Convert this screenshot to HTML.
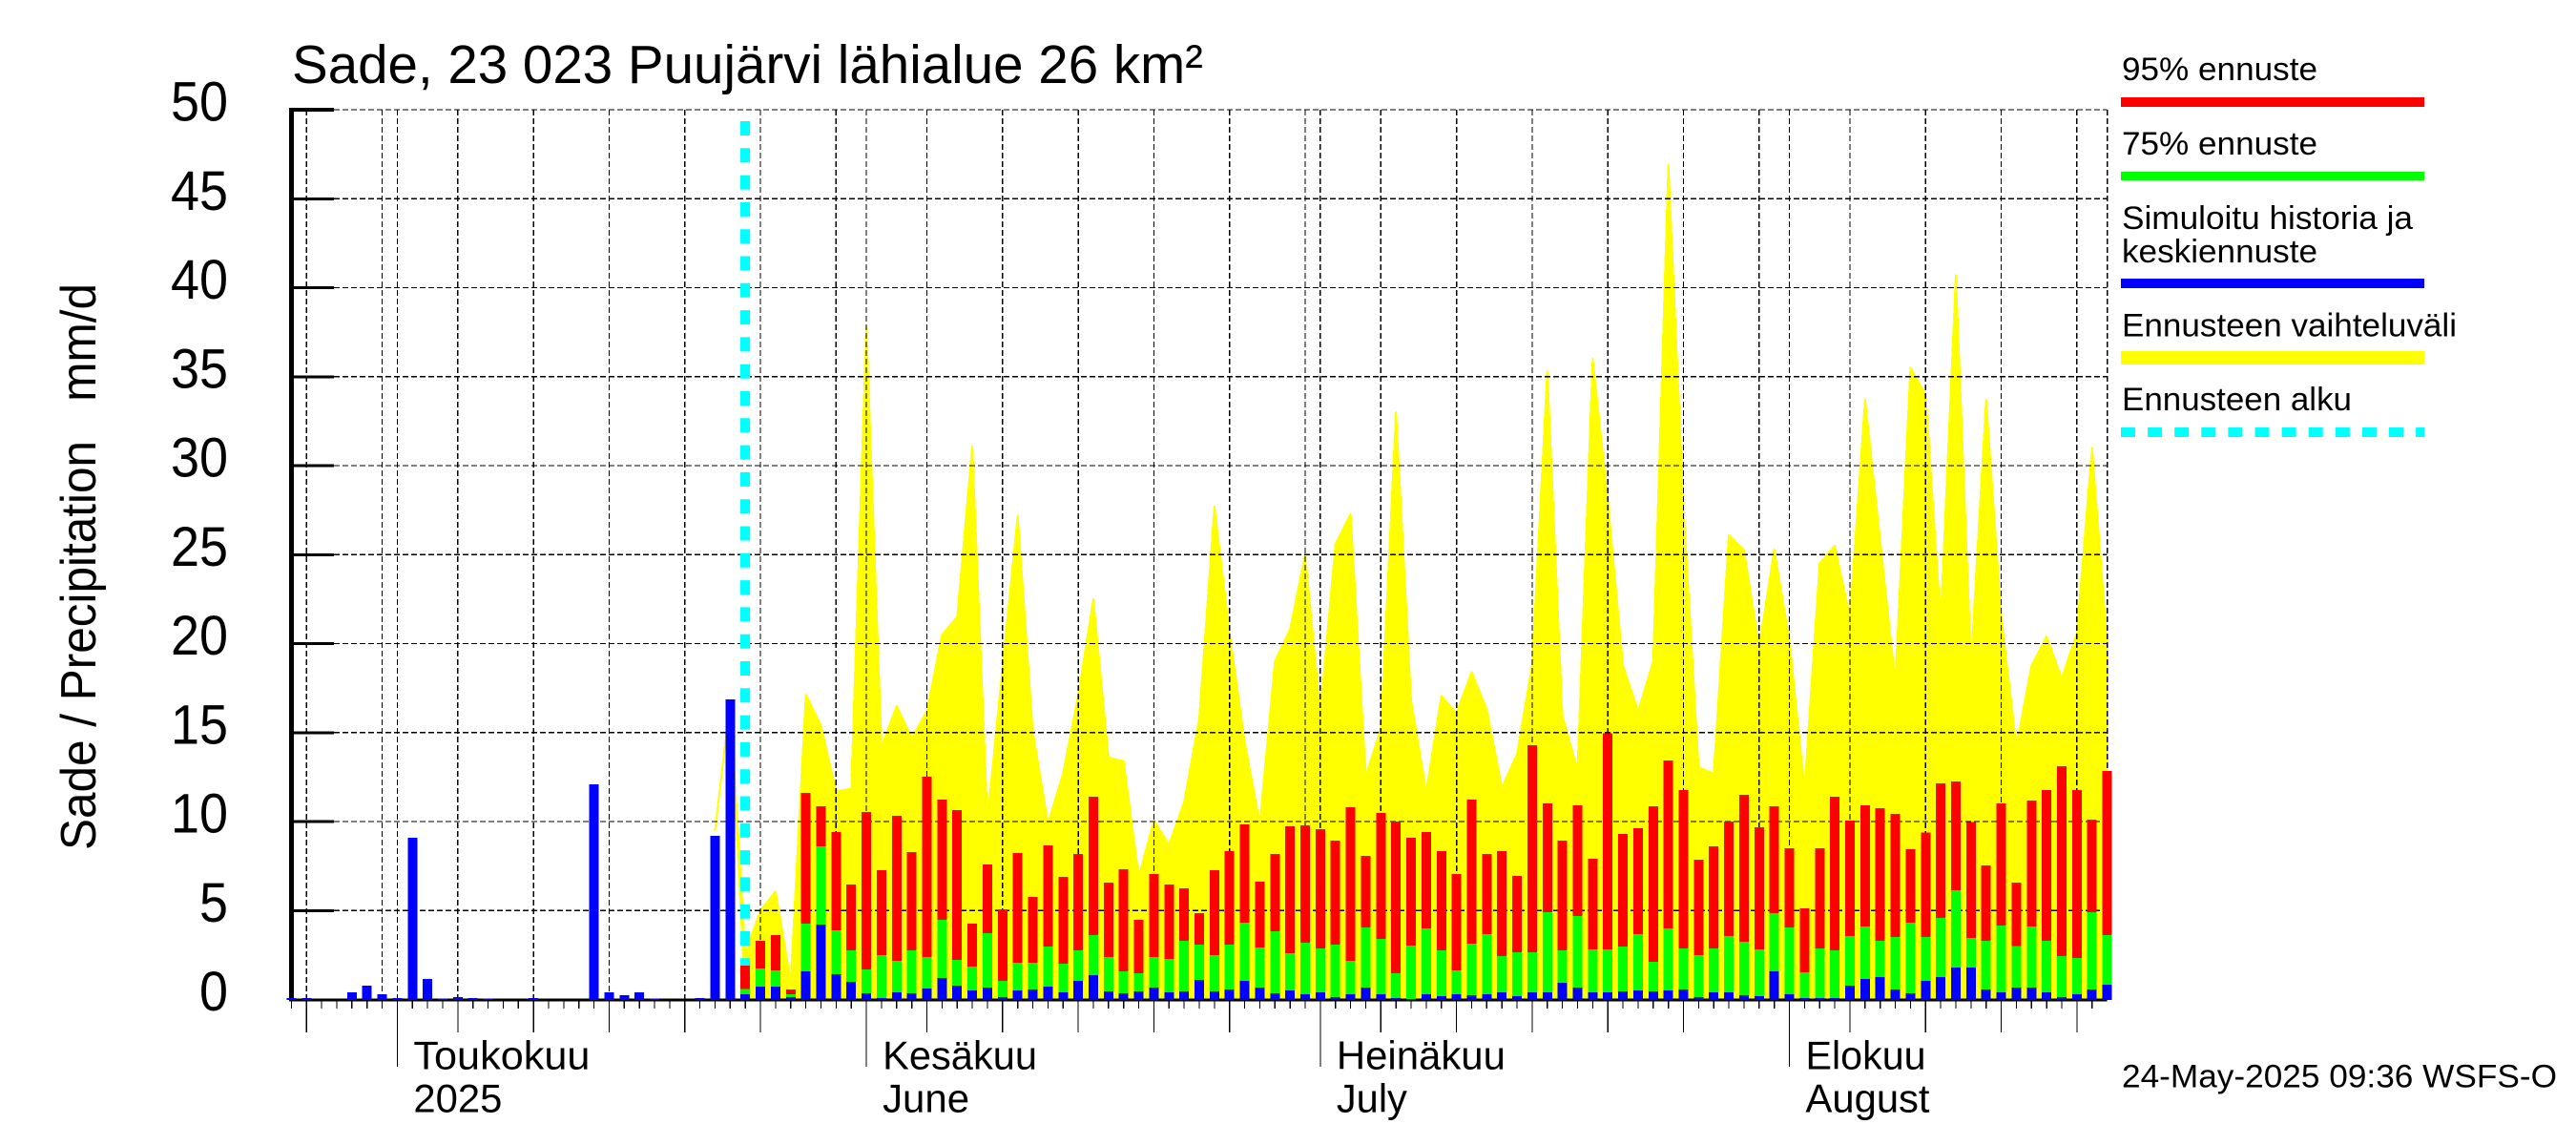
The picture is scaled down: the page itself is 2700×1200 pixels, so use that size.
<!DOCTYPE html>
<html lang="fi">
<head>
<meta charset="utf-8">
<title>Sade, 23 023 Puujärvi lähialue 26 km²</title>
<style>
html,body{margin:0;padding:0;background:#fff;width:2700px;height:1200px;overflow:hidden}
svg{display:block}
text{font-family:"Liberation Sans",sans-serif;fill:#000;white-space:pre}
</style>
</head>
<body>
<svg id="chart" xmlns="http://www.w3.org/2000/svg" width="2700" height="1200" viewBox="0 0 2700 1200">
  <rect x="0" y="0" width="2700" height="1200" fill="#fff"/>
  <g id="layer-range"></g>
  <g id="layer-grid" shape-rendering="crispEdges"></g>
  <line x1="781" y1="127" x2="781" y2="1047" stroke="#00ffff" stroke-width="10.4" stroke-dasharray="15 13.3"/>
  <g id="layer-axes" shape-rendering="crispEdges"></g>
  <g id="layer-bars" shape-rendering="crispEdges"></g>
  <g id="layer-labels"></g>

  <text x="306" y="87" font-size="57" textLength="955" lengthAdjust="spacingAndGlyphs">Sade, 23 023 Puujärvi lähialue 26 km²</text>
  <text transform="translate(100 891) rotate(-90)" x="0" y="0" font-size="52" textLength="594" lengthAdjust="spacingAndGlyphs">Sade / Precipitation   mm/d</text>

  <g>
    <text x="2224" y="84" font-size="34" textLength="205" lengthAdjust="spacingAndGlyphs">95% ennuste</text>
    <rect x="2223" y="102" width="318" height="10" fill="#ff0000"/>
    <text x="2224" y="162" font-size="34" textLength="205" lengthAdjust="spacingAndGlyphs">75% ennuste</text>
    <rect x="2223" y="180" width="318" height="9" fill="#00ff00"/>
    <text x="2224" y="240" font-size="34" textLength="305" lengthAdjust="spacingAndGlyphs">Simuloitu historia ja</text>
    <text x="2224" y="275" font-size="34" textLength="205" lengthAdjust="spacingAndGlyphs">keskiennuste</text>
    <rect x="2223" y="292" width="318" height="10" fill="#0000ff"/>
    <text x="2224" y="352.7" font-size="34" textLength="351" lengthAdjust="spacingAndGlyphs">Ennusteen vaihteluväli</text>
    <rect x="2223" y="368" width="318" height="14" fill="#ffff00"/>
    <text x="2224" y="430" font-size="34" textLength="241" lengthAdjust="spacingAndGlyphs">Ennusteen alku</text>
    <line x1="2223" y1="453" x2="2541" y2="453" stroke="#00ffff" stroke-width="10" stroke-dasharray="15 13.1"/>
  </g>

  <text x="2224" y="1139.6" font-size="34" textLength="456" lengthAdjust="spacingAndGlyphs">24-May-2025 09:36 WSFS-O</text>
</svg>
<script>
// ---- chart data (mm/d), one entry per day from the start date ----
const startYear = 2025;
const startMonth = 3;   // April (0-based)
const startDay = 24;
const yTickValues = [0, 5, 10, 15, 20, 25, 30, 35, 40, 45, 50];
const monthLabelsFi = ['Toukokuu', 'Kesäkuu', 'Heinäkuu', 'Elokuu'];
const monthLabelsEn = ['2025', 'June', 'July', 'August'];
const monthLabelNumbers = [4, 5, 6, 7];
const monthLabelWidthsFi = [185, 162, 177, 126];
const monthLabelWidthsEn = [93, 91, 74, 130];

// Simulated history and median forecast
const medianValues = [
 0.07,0.07,0,0,0.4,0.77,0.3,0.07,9.08,1.16,
 0.05,0.13,0.07,0.05,0,0,0.07,0,0,0,
 12.1,0.4,0.24,0.4,0.05,0,0,0.07,9.2,16.86,
 0.3,0.72,0.72,0.13,1.58,4.21,1.42,0.99,0.35,0.08,
 0.40,0.35,0.62,1.21,0.78,0.51,0.67,0.13,0.51,0.56,
 0.72,0.40,1.05,1.37,0.46,0.35,0.46,0.67,0.40,0.46,
 1.10,0.46,0.56,1.05,0.67,0.35,0.51,0.29,0.40,0.13,
 0.29,0.67,0.29,0.08,0.03,0.29,0.19,0.29,0.24,0.29,
 0.40,0.19,0.40,0.40,0.94,0.67,0.40,0.40,0.46,0.51,
 0.46,0.51,0.56,0.13,0.40,0.40,0.24,0.19,1.58,0.29,
 0.08,0.08,0.08,0.78,1.15,1.26,0.56,0.35,1.04,1.26,
 1.80,1.80,0.56,0.40,0.67,0.67,0.40,0.13,0.30,0.56,0.83];

// Forecast percentiles start at the forecast start day
const forecastStartIndex = 30;
const p75Values = [
 0.6,1.74,1.64,0.29,4.26,8.61,3.89,2.76,1.69,2.49,
 2.17,2.76,2.39,4.48,2.23,1.85,3.73,1.05,2.06,2.06,
 2.98,2.01,2.76,3.62,2.39,1.58,1.47,2.39,2.28,3.30,
 3.08,2.49,3.08,4.32,2.92,3.83,2.60,3.19,2.87,3.08,
 2.17,4.05,3.40,1.47,3.03,3.99,2.76,1.64,3.14,3.67,
 2.44,2.65,2.65,4.91,2.76,4.69,2.81,2.81,2.98,3.67,
 2.12,3.99,2.87,2.49,2.87,3.57,3.24,2.81,4.85,4.05,
 1.53,2.87,2.76,3.57,4.10,3.30,3.51,4.32,3.52,4.59,
 6.15,3.46,3.29,4.16,2.99,4.09,3.29,2.43,2.33,4.91,3.62];
const p95Values = [
 1.9,3.30,3.62,0.56,11.61,10.86,9.41,6.46,10.54,7.27,
 10.32,8.28,12.52,11.23,10.64,4.26,7.59,5.07,8.23,5.76,
 8.66,6.89,8.18,11.39,6.57,7.32,4.48,7.05,6.46,6.25,
 4.85,7.27,8.34,9.84,6.62,8.18,9.73,9.79,9.57,8.93,
 10.80,8.07,10.48,10.0,9.09,9.41,8.34,7.05,11.23,8.18,
 8.34,6.94,14.29,11.02,8.93,10.91,7.91,14.95,9.30,9.62,
 10.86,13.43,11.77,7.86,8.61,10.0,11.50,9.68,10.86,8.50,
 5.12,8.50,11.39,10.05,10.91,10.75,10.42,8.45,9.37,12.14,
 12.26,9.96,7.54,11.03,6.58,11.17,11.77,13.10,11.77,10.11,12.84];

// Forecast variation envelope: upper edge, and the lower edge where it leaves zero
const rangeStartIndex = 28;
const rangeMaxValues = [
 9.5,16.8,2.6,5.0,6.08,1.04,17.13,15.4,11.7,11.84,
 37.8,14.2,16.5,14.7,16.2,20.5,21.5,31.1,10.1,18.7,
 27.2,15.06,9.9,12.7,17.1,22.5,13.6,13.4,6.9,10.05,
 8.7,11.1,15.8,27.7,20.6,14.5,9.9,19.0,20.8,25.0,
 16.1,25.6,27.3,12.6,15.2,33.0,16.8,11.7,17.05,16.1,
 18.4,16.3,11.9,13.8,18.8,35.3,15.95,12.9,36.0,28.0,
 18.8,16.2,19.0,46.9,27.7,13.05,12.7,26.1,25.25,19.8,
 25.3,20.2,11.84,24.5,25.5,21.5,33.7,25.8,17.84,35.5,
 34.0,21.3,40.7,18.9,33.7,21.5,14.25,18.76,20.4,18.04,20.6,31.0,20.0];
const rangeMinValues = [9.5,16.8];

// ---- scales ----
const NS = 'http://www.w3.org/2000/svg';
function xScale(i){ return 305.4 + 15.86 * i; }
function yScale(v){ return 1047.5 - 18.65 * v; }
function dateAt(i){ return new Date(Date.UTC(startYear, startMonth, startDay + i)); }
function make(tag, parent){
  const el = document.createElementNS(NS, tag);
  parent.appendChild(el);
  return el;
}
function setAll(el, props){
  Object.keys(props).forEach(function(k){ el.setAttribute(k, props[k]); });
}

const rangeLayer = document.getElementById('layer-range');
const gridLayer = document.getElementById('layer-grid');
const barLayer = document.getElementById('layer-bars');
const axisLayer = document.getElementById('layer-axes');
const labelLayer = document.getElementById('layer-labels');

// ---- forecast envelope ----
const rangePts = [];
rangeMaxValues.forEach(function(v, k){
  rangePts.push(xScale(rangeStartIndex + k) + ',' + yScale(v));
});
for (let k = rangeMaxValues.length - 1; k >= 0; k--) {
  const low = k < rangeMinValues.length ? rangeMinValues[k] : 0;
  rangePts.push(xScale(rangeStartIndex + k) + ',' + yScale(low));
}
const rangePoly = make('polygon', rangeLayer);


setAll(rangePoly, {points: rangePts.join(' '), fill: '#ffff00', stroke: '#ffff00', 'stroke-width': 2,
                   'stroke-linejoin': 'round', 'shape-rendering': 'crispEdges'});

// ---- horizontal grid, y ticks, y labels ----
const plotRight = xScale(medianValues.length - 1);
yTickValues.forEach(function(v){
  const y = yScale(v);
  if (v > 0) {
    const g = make('line', gridLayer);
    
    
    setAll(g, {x1: 350, x2: plotRight, y1: y, y2: y, stroke: '#000', 'stroke-width': 1.3, 'stroke-dasharray': '6 3'});
    const t = make('rect', axisLayer);
    
    
    const h = v === 50 ? 4 : 3;
    setAll(t, {x: 304, y: y - h / 2, width: 46, height: h, fill: '#000'});
  }
  const lab = make('text', labelLayer);
  
  
  setAll(lab, {x: 239, y: y + 11.5, 'font-size': 58, 'text-anchor': 'end',
               textLength: v < 10 ? 30 : 60, lengthAdjust: 'spacingAndGlyphs'});
  lab.textContent = String(v);
});

// ---- vertical grid and x ticks ----
const gridDays = [1, 5, 10, 15, 20, 25, 30];
for (let i = 0; i < medianValues.length; i++) {
  const d = dateAt(i).getUTCDate();
  const x = xScale(i);
  const isLast = i === medianValues.length - 1;
  if (gridDays.indexOf(d) >= 0 || isLast) {
    const g = make('line', gridLayer);
    
    
    setAll(g, {x1: x, x2: x, y1: 115, y2: 1047, stroke: '#000', 'stroke-width': 1.3, 'stroke-dasharray': '6 3'});
  }
  if (!isLast) {
    let len = 8;
    if (d === 1) len = 69;
    else if (gridDays.indexOf(d) >= 0 && d !== 30) len = 33;
    const t = make('line', axisLayer);
    
    
    setAll(t, {x1: x, x2: x, y1: 1049, y2: 1049 + len, stroke: '#000', 'stroke-width': 1.2});
  }
}

// ---- month labels ----
monthLabelNumbers.forEach(function(m, k){
  const idx = Math.round((Date.UTC(startYear, m, 1) - Date.UTC(startYear, startMonth, startDay)) / 86400000);
  const x = xScale(idx) + 17;
  const fi = make('text', labelLayer);
  
  
  setAll(fi, {x: x, y: 1120.5, 'font-size': 42, textLength: monthLabelWidthsFi[k], lengthAdjust: 'spacingAndGlyphs'});
  fi.textContent = monthLabelsFi[k];
  const en = make('text', labelLayer);
  
  
  setAll(en, {x: x, y: 1165.6, 'font-size': 42, textLength: monthLabelWidthsEn[k], lengthAdjust: 'spacingAndGlyphs'});
  en.textContent = monthLabelsEn[k];
});

// ---- axis lines (drawn beneath the bars) ----
const yAxis = make('rect', axisLayer);


setAll(yAxis, {x: 303, y: 113, width: 5, height: 936, fill: '#000'});
const xAxis = make('rect', axisLayer);


setAll(xAxis, {x: 303, y: 1046.5, width: plotRight - 303, height: 3, fill: '#000'});

// ---- bars ----
function addBar(i, v, color, name){
  const top = yScale(v);
  const r = make('rect', barLayer);
  
  
  setAll(r, {x: xScale(i) - 5, y: top, width: 10, height: Math.max(0, yScale(0) + 0.5 - top), fill: color});
}
p95Values.forEach(function(v, k){ addBar(forecastStartIndex + k, v, '#ff0000', 'bar-95-percent'); });
p75Values.forEach(function(v, k){ addBar(forecastStartIndex + k, v, '#00ff00', 'bar-75-percent'); });
medianValues.forEach(function(v, i){ if (v > 0) addBar(i, v, '#0000ff', 'bar-median'); });
</script>
</body>
</html>
